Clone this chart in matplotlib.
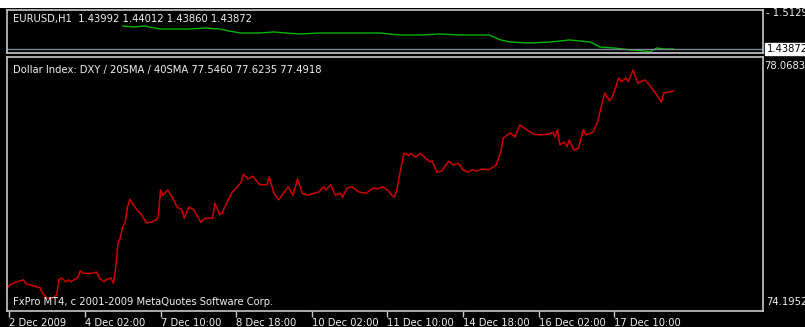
import matplotlib
matplotlib.use('Agg')
import matplotlib.pyplot as plt
from matplotlib.patches import Rectangle

# Dollar Index (DXY), H1 bars: bar index and value
dxy_bar = [0, 1, 4, 7, 8, 11, 14, 15, 17, 19, 20, 21, 22, 23, 25, 26, 27, 30, 31, 32,
           34, 36, 38, 39, 41, 42, 44, 45, 46, 47, 48, 49, 50, 51, 52, 53, 55, 57, 59, 61,
           63, 64, 65, 66, 68, 70, 72, 74, 75, 77, 79, 82, 84, 87, 88, 90, 91, 93, 95, 97,
           99, 100, 102, 104, 107, 110, 111, 113, 115, 117, 119, 121, 123, 125, 127, 130, 132, 134, 135, 137,
           139, 141, 142, 144, 146, 149, 152, 155, 157, 159, 161, 163, 164, 165, 166, 168, 170, 171, 173, 175,
           177, 179, 180, 182, 184, 187, 189, 191, 193, 195, 197, 199, 201, 204, 207, 209, 210, 213, 215, 217,
           220, 223, 226, 229, 231, 232, 233, 234, 236, 237, 238, 240, 242, 243, 244, 245, 248, 250, 252, 253,
           255, 256, 259, 260, 262, 263, 265, 267, 270, 272, 275, 277, 278, 280, 282]
dxy_val = [74.53, 74.59, 74.64, 74.67, 74.61, 74.58, 74.55, 74.47, 74.39, 74.39, 74.41, 74.44, 74.67, 74.70, 74.64, 74.67, 74.64, 74.71, 74.81, 74.77,
           74.77, 74.77, 74.79, 74.70, 74.64, 74.67, 74.70, 74.62, 74.85, 75.23, 75.32, 75.48, 75.54, 75.78, 75.90, 75.84, 75.74, 75.66, 75.54, 75.55,
           75.58, 75.63, 76.04, 75.96, 76.04, 75.93, 75.78, 75.74, 75.61, 75.78, 75.74, 75.55, 75.61, 75.61, 75.84, 75.66, 75.69, 75.84, 75.99, 76.07,
           76.15, 76.28, 76.21, 76.25, 76.12, 76.12, 76.24, 75.99, 75.89, 75.99, 76.09, 75.96, 76.21, 75.99, 75.96, 75.99, 76.01, 76.09, 76.04, 76.12,
           75.96, 75.99, 75.93, 76.07, 76.09, 76.01, 75.99, 76.07, 76.06, 76.09, 76.04, 75.96, 75.93, 76.04, 76.24, 76.60, 76.57, 76.60, 76.54, 76.60,
           76.53, 76.47, 76.48, 76.31, 76.33, 76.48, 76.42, 76.45, 76.35, 76.31, 76.35, 76.33, 76.36, 76.35, 76.42, 76.62, 76.83, 76.91, 76.85, 77.03,
           76.96, 76.89, 76.88, 76.89, 76.92, 76.85, 76.96, 76.73, 76.77, 76.70, 76.80, 76.65, 76.68, 76.83, 76.96, 76.88, 76.92, 77.08, 77.38, 77.52,
           77.40, 77.44, 77.75, 77.69, 77.75, 77.69, 77.87, 77.67, 77.72, 77.64, 77.49, 77.38, 77.52, 77.53, 77.55]

# EURUSD, H1
eur_bar = [49, 54, 58, 65, 71, 77, 84, 90, 94, 99, 107, 113, 118, 124, 132, 141, 149, 158, 166, 175,
           183, 192, 204, 209, 213, 221, 230, 238, 247, 251, 257, 264, 270, 272, 275, 278, 282]
eur_val = [1.4861, 1.4841, 1.4861, 1.4799, 1.4799, 1.4799, 1.4820, 1.4799, 1.4758, 1.4717,
           1.4717, 1.4738, 1.4717, 1.4696, 1.4717, 1.4717, 1.4717, 1.4717, 1.4676, 1.4676,
           1.4696, 1.4676, 1.4676, 1.4573, 1.4531, 1.4511, 1.4531, 1.4573, 1.4531, 1.4428,
           1.4408, 1.4367, 1.4346, 1.4326, 1.4408, 1.4387, 1.4387]

tick_bars = [1, 33, 65, 97, 129, 161, 193, 225, 257]
tick_labels = ['2 Dec 2009', '4 Dec 02:00', '7 Dec 10:00', '8 Dec 18:00', '10 Dec 02:00',
               '11 Dec 10:00', '14 Dec 18:00', '16 Dec 02:00', '17 Dec 10:00']

eur_ohlc = 'EURUSD,H1  1.43992 1.44012 1.43860 1.43872'
eur_bid = 1.43872
eur_top = 1.51290
dxy_title = 'Dollar Index: DXY / 20SMA / 40SMA 77.5460 77.6235 77.4918'
dxy_top = 78.0683
dxy_bottom = 74.1952

W, H = 805, 327
frame = '#c8c8c8'
txt = '#f0f0f0'
fs = 7.2

fig = plt.figure(figsize=(W / 100., H / 100.), dpi=100, facecolor='black')
fig.patches.append(Rectangle((0, 1 - 8. / H), 1, 8. / H, transform=fig.transFigure,
                             facecolor='white', edgecolor='none', zorder=-1))


def px_axes(x0, y0, x1, y1):
    ax = fig.add_axes([x0 / W, 1 - y1 / H, (x1 - x0) / W, (y1 - y0) / H])
    ax.set_facecolor('black')
    for s in ax.spines.values():
        s.set_color(frame)
        s.set_linewidth(1.2)
    ax.set_xlim(0, 320)
    return ax


# top window: EURUSD
ax1 = px_axes(7, 10, 763, 53)
ax1.set_ylim(1.4305, 1.5191)
ax1.plot(eur_bar, eur_val, color='#00b400', lw=1)
ax1.axhline(eur_bid, color='#7a8896', lw=1)
ax1.set_xticks([])
ax1.set_yticks([])
ax1.text(6. / 756, 0.78, eur_ohlc, transform=ax1.transAxes, color=txt,
         fontsize=fs, va='center', ha='left')
ax1.text(1.004, eur_top, '- %.5f' % eur_top, transform=ax1.get_yaxis_transform(),
         color=txt, fontsize=fs, va='center', ha='left', clip_on=False)
ax1.text(1.005, eur_bid, '%.5f' % eur_bid, transform=ax1.get_yaxis_transform(),
         color='black', fontsize=fs, va='center', ha='left', clip_on=False,
         bbox=dict(facecolor='white', edgecolor='white', pad=1.0))

# main window: Dollar Index
ax2 = px_axes(7, 57, 763, 311)
ax2.set_ylim(dxy_bottom, dxy_top)
ax2.plot(dxy_bar, dxy_val, color='#d00000', lw=1.1)
ax2.set_yticks([])
ax2.set_xticks(tick_bars)
ax2.set_xticklabels(tick_labels)
ax2.tick_params(axis='x', colors=frame, length=4, width=1, direction='out', pad=1,
                labelcolor=txt, labelsize=fs)
for lbl in ax2.get_xticklabels():
    lbl.set_horizontalalignment('left')
ax2.text(6. / 756, 0.95, dxy_title, transform=ax2.transAxes, color=txt,
         fontsize=fs, va='center', ha='left')
ax2.text(6. / 756, 0.035, 'FxPro MT4, c 2001-2009 MetaQuotes Software Corp.',
         transform=ax2.transAxes, color=txt, fontsize=fs, va='center', ha='left')
ax2.text(1.002, 0.965, '%.4f' % dxy_top, transform=ax2.transAxes,
         color=txt, fontsize=fs, va='center', ha='left', clip_on=False)
ax2.text(1.004, 0.035, '%.4f' % dxy_bottom, transform=ax2.transAxes,
         color=txt, fontsize=fs, va='center', ha='left', clip_on=False)

fig.savefig('out.png', dpi=100, facecolor='black')
